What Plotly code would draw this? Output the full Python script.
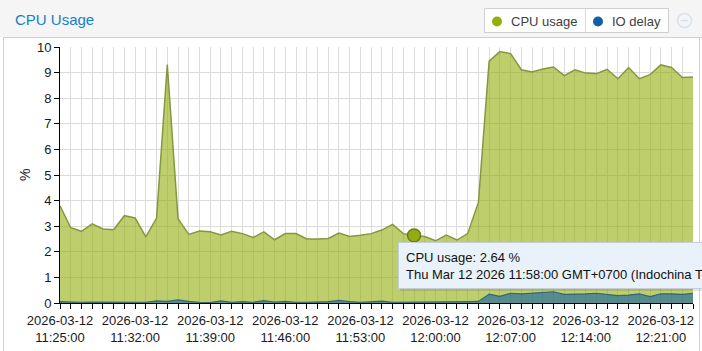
import pandas as pd
import plotly.graph_objects as go

# ---- data ----
start_time = "2026-03-12 11:25:00"
n_points = 60
cpu_usage = [3.80, 2.94, 2.80, 3.09, 2.89, 2.86, 3.41, 3.32, 2.58, 3.32,
             9.31, 3.29, 2.68, 2.81, 2.78, 2.66, 2.80, 2.71, 2.56, 2.78,
             2.47, 2.71, 2.71, 2.50, 2.50, 2.52, 2.73, 2.60, 2.65, 2.71,
             2.85, 3.07, 2.71, 2.64, 2.60, 2.43, 2.65, 2.46, 2.71, 3.93,
             9.45, 9.82, 9.74, 9.11, 9.02, 9.14, 9.22, 8.88, 9.11, 8.98,
             8.96, 9.13, 8.76, 9.20, 8.76, 8.92, 9.30, 9.20, 8.81, 8.83]
io_delay = [0.05, 0.03, 0.03, 0.04, 0.04, 0.04, 0.04, 0.04, 0.03, 0.08,
            0.06, 0.12, 0.06, 0.03, 0.02, 0.08, 0.03, 0.05, 0.03, 0.09,
            0.04, 0.06, 0.03, 0.03, 0.04, 0.05, 0.10, 0.05, 0.03, 0.04,
            0.07, 0.03, 0.03, 0.05, 0.03, 0.04, 0.03, 0.04, 0.05, 0.06,
            0.35, 0.26, 0.38, 0.36, 0.38, 0.42, 0.44, 0.34, 0.34, 0.36,
            0.38, 0.34, 0.29, 0.31, 0.36, 0.25, 0.36, 0.36, 0.34, 0.38]
hover_index = 33
y_ticks = list(range(0, 11))
title_text = "CPU Usage"
legend_names = ["CPU usage", "IO delay"]
tooltip_lines = ["CPU usage: 2.64 %",
                 "Thu Mar 12 2026 11:58:00 GMT+0700 (Indochina Time)"]

times = pd.date_range(start_time, periods=n_points, freq="1min")
major_ticks = list(times[::7])
major_text = [f"{t:%Y-%m-%d}<br>{t:%H:%M:%S}" for t in major_ticks]

W, H = 702, 351
ML, MR, MT, MB = 60, 9, 47, 48
PW, PH = W - ML - MR, H - MT - MB

def px(x):
    return (x - ML) / PW

def py(y):
    return (H - MB - y) / PH

FONT = "Liberation Sans, Arial, Helvetica, sans-serif"
CPU_COL = "#94ae0a"
IO_COL = "#115fa6"

fig = go.Figure()
fig.add_trace(go.Scatter(
    x=times, y=cpu_usage, mode="lines", fill="tozeroy",
    fillcolor="rgba(148,174,10,0.6)", line=dict(color="rgb(132,152,62)", width=1.5),
    hoverinfo="skip", showlegend=False))
fig.add_trace(go.Scatter(
    x=times, y=io_delay, mode="lines", fill="tozeroy",
    fillcolor="rgba(17,95,166,0.6)", line=dict(color="rgba(40,95,120,0.9)", width=1.2),
    hoverinfo="skip", showlegend=False))
fig.add_trace(go.Scatter(
    x=[times[hover_index]], y=[cpu_usage[hover_index]], mode="markers",
    marker=dict(size=13, color="#94ab12", line=dict(color="#6a7d12", width=1.5)),
    hoverinfo="skip", showlegend=False))

shapes = []
annotations = []
# header background and panel borders
shapes.append(dict(type="rect", xref="paper", yref="paper", x0=px(0), x1=px(W), y0=py(37), y1=py(0),
                   fillcolor="#f5f5f5", line=dict(width=0), layer="below"))
shapes.append(dict(type="line", xref="paper", yref="paper", x0=px(3), x1=px(W), y0=py(37.5), y1=py(37.5),
                   line=dict(color="#d0d0d0", width=1)))
shapes.append(dict(type="line", xref="paper", yref="paper", x0=px(3.5), x1=px(3.5), y0=py(37), y1=py(H),
                   line=dict(color="#d0d0d0", width=1)))
shapes.append(dict(type="line", xref="paper", yref="paper", x0=px(699.5), x1=px(699.5), y0=py(37), y1=py(H),
                   line=dict(color="#d0d0d0", width=1)))
annotations.append(dict(text=title_text, xref="paper", yref="paper", x=px(13), y=py(19),
                        xanchor="left", yanchor="middle", showarrow=False,
                        font=dict(family=FONT, size=15, color="#157fcc")))

# legend box
shapes.append(dict(type="rect", xref="paper", yref="paper", x0=px(484.5), x1=px(668.5), y0=py(32.5), y1=py(8.5),
                   fillcolor="white", line=dict(color="#cfcfcf", width=1)))
shapes.append(dict(type="line", xref="paper", yref="paper", x0=px(585.5), x1=px(585.5), y0=py(32), y1=py(9),
                   line=dict(color="#d8d8d8", width=1)))
for cx, col in [(497, CPU_COL), (598, IO_COL)]:
    shapes.append(dict(type="circle", xref="paper", yref="paper", x0=px(cx - 5), x1=px(cx + 5),
                       y0=py(26.5), y1=py(16.5), fillcolor=col, line=dict(width=0)))
for tx, name in [(508.5, legend_names[0]), (609.5, legend_names[1])]:
    annotations.append(dict(text=name, xref="paper", yref="paper", x=px(tx), y=py(21),
                            xanchor="left", yanchor="middle", showarrow=False,
                            font=dict(family=FONT, size=13, color="#404040")))
# collapse icon
shapes.append(dict(type="circle", xref="paper", yref="paper", x0=px(677.5), x1=px(691.5),
                   y0=py(27.5), y1=py(13.5), fillcolor="rgba(0,0,0,0)", line=dict(color="#d6e1ee", width=1.5)))
shapes.append(dict(type="line", xref="paper", yref="paper", x0=px(680.5), x1=px(688.5),
                   y0=py(20.5), y1=py(20.5), line=dict(color="#d6e1ee", width=1.5)))

# y axis title
annotations.append(dict(text="%", xref="paper", yref="paper", x=px(25), y=py(175),
                        xanchor="center", yanchor="middle", showarrow=False, textangle=-90,
                        font=dict(family=FONT, size=14, color="#222")))

# tooltip
shapes.append(dict(type="rect", xref="paper", yref="paper", x0=px(400), x1=px(720), y0=py(291), y1=py(245),
                   fillcolor="rgba(0,0,0,0.10)", line=dict(width=0)))
shapes.append(dict(type="rect", xref="paper", yref="paper", x0=px(398.5), x1=px(720), y0=py(288.5), y1=py(242.5),
                   fillcolor="#e9f1fa", line=dict(color="#c5cdd6", width=1)))
for i, line in enumerate(tooltip_lines):
    annotations.append(dict(text=line, xref="paper", yref="paper", x=px(404), y=py(257 + 17 * i),
                            xanchor="left", yanchor="middle", showarrow=False,
                            font=dict(family=FONT, size=13, color="#111")))

fig.update_layout(
    width=W, height=H, margin=dict(l=ML, r=MR, t=MT, b=MB, autoexpand=False),
    paper_bgcolor="white", plot_bgcolor="white",
    font=dict(family=FONT, size=13, color="#222"),
    shapes=shapes, annotations=annotations, showlegend=False,
    xaxis=dict(type="date", range=[times[0], times[-1]], tickmode="array", automargin=False,
               tickvals=major_ticks, ticktext=major_text, ticks="outside", ticklen=5,
               tickcolor="#000", showline=True, linecolor="#000", linewidth=1,
               showgrid=True, gridcolor="#dcdcdc", gridwidth=1, zeroline=False,
               tickfont=dict(family=FONT, size=13, color="#1a1a1a"),
               minor=dict(tickmode="array", tickvals=list(times), ticks="outside", ticklen=5,
                          tickcolor="#000", showgrid=True, gridcolor="#dcdcdc", gridwidth=1)),
    yaxis=dict(range=[0, 10], tickmode="array", tickvals=y_ticks, ticks="outside", ticklen=5,
               automargin=False,
               tickcolor="#000", showline=True, linecolor="#000", linewidth=1,
               showgrid=True, gridcolor="#dcdcdc", gridwidth=1, zeroline=False,
               tickfont=dict(family=FONT, size=13, color="#1a1a1a")),
)

fig.write_html("out.html")
